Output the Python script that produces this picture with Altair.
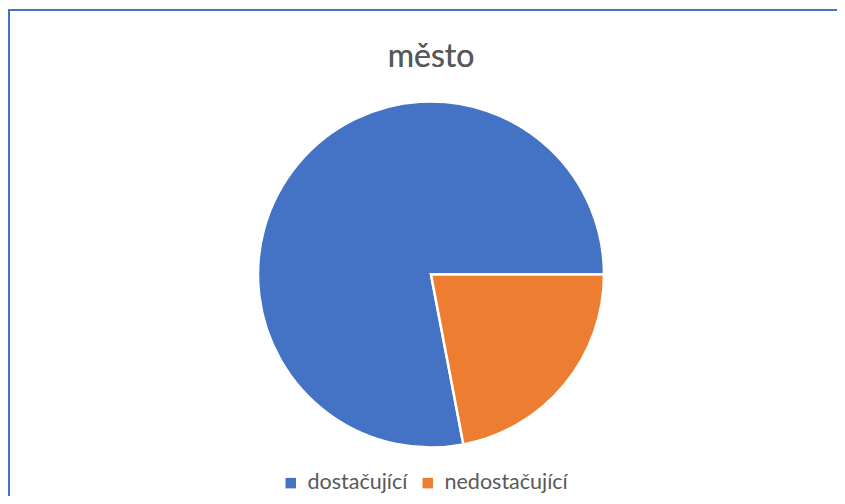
import altair as alt
import pandas as pd

categories = ["dostačující", "nedostačující"]
values = [78, 22]
colors = ["#4472C4", "#ED7D31"]
title_text = "město"

df = pd.DataFrame({"kategorie": categories, "hodnota": values, "poradi": [0, 1]})

start = 169.2 * 3.141592653589793 / 180.0
two_pi = 2 * 3.141592653589793

pie = alt.Chart(df).mark_arc(radius=173, stroke="white", strokeWidth=2.5).encode(
    theta=alt.Theta("hodnota:Q", stack=True, scale=alt.Scale(range=[start, start + two_pi])),
    order=alt.Order("poradi:Q"),
    color=alt.Color(
        "kategorie:N",
        scale=alt.Scale(domain=categories, range=colors),
        sort=categories,
        legend=alt.Legend(
            title=None,
            orient="none",
            direction="horizontal",
            legendX=272,
            legendY=464,
            symbolType="square",
            symbolSize=110,
            symbolStrokeWidth=0,
            labelFont="Lato",
            labelFontSize=21.5,
            labelColor="#595959",
            labelOffset=6,
            columnPadding=9,
        ),
    ),
    x=alt.value(423),
    y=alt.value(266.5),
)

border_top = alt.Chart(df).mark_rule(color="#4472C4", strokeWidth=2).encode(
    x=alt.value(0), x2=alt.value(829), y=alt.value(2)
)
border_left = alt.Chart(df).mark_rule(color="#4472C4", strokeWidth=2).encode(
    x=alt.value(1), y=alt.value(1), y2=alt.value(488)
)

title = alt.Chart(df).mark_text(
    text=title_text, font="Lato", fontSize=32, color="#595959", baseline="alphabetic", align="center"
).encode(x=alt.value(423), y=alt.value(59))

chart = alt.layer(pie, border_top, border_left, title).properties(
    width=829, height=488, autosize=alt.AutoSizeParams(type="none"), padding=0
).configure_view(stroke=None)

chart.save("out.html", embed_options={"renderer": "svg", "actions": False})
